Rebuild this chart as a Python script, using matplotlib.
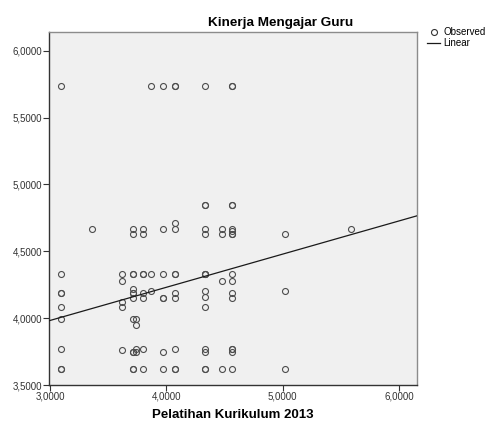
import matplotlib.pyplot as plt
import numpy as np
from matplotlib.lines import Line2D

plt.rcParams['font.family'] = ['Liberation Sans', 'DejaVu Sans']

# --- DATA ---
# x = Pelatihan Kurikulum 2013, y = Kinerja Mengajar Guru
COL_X = [3.09, 3.36, 3.62, 3.71, 3.74, 3.80, 3.87, 3.97, 4.07, 4.33, 4.48, 4.56, 5.02, 5.59]
COL_Y = [
    [5.74, 4.33, 4.19, 4.19, 4.08, 3.99, 3.77, 3.62, 3.62],
    [4.67],
    [4.33, 4.28, 4.12, 4.08, 3.76],
    [4.67, 4.63, 4.33, 4.33, 4.22, 4.19, 4.19, 4.15, 3.99, 3.75, 3.75, 3.62, 3.62],
    [3.99, 3.95, 3.77, 3.75],
    [4.67, 4.63, 4.33, 4.33, 4.19, 4.15, 3.77, 3.62],
    [5.74, 4.33, 4.20],
    [5.74, 4.67, 4.33, 4.15, 4.15, 3.75, 3.62],
    [5.74, 5.74, 4.71, 4.67, 4.33, 4.33, 4.19, 4.15, 3.77, 3.62, 3.62],
    [5.74, 4.85, 4.85, 4.67, 4.63, 4.33, 4.33, 4.33, 4.20, 4.16, 4.08, 3.77, 3.75, 3.62, 3.62],
    [4.67, 4.63, 4.28, 3.62],
    [5.74, 5.74, 4.85, 4.85, 4.67, 4.65, 4.63, 4.63, 4.33, 4.28, 4.19, 4.15, 3.77, 3.77, 3.75, 3.62],
    [4.63, 4.20, 3.62],
    [4.67],
]

# linear fit line
FIT_INTERCEPT = 3.239
FIT_SLOPE = 0.248

X_TICKS = [3.0, 4.0, 5.0, 6.0]
Y_TICKS = [3.5, 4.0, 4.5, 5.0, 5.5, 6.0]

xs = []
ys = []
for cx, col in zip(COL_X, COL_Y):
    xs += [cx] * len(col)
    ys += col

fig = plt.figure(figsize=(4.88, 4.23), dpi=100)
ax = fig.add_axes([0.1004, 0.0898, 0.7536, 0.8345])
ax.set_facecolor('#f0f0f0')

ax.plot(xs, ys, linestyle='none', marker='o', markersize=4.3,
        markerfacecolor='none', markeredgecolor='#4d4d4d', markeredgewidth=0.8, zorder=3)

xlim = (2.99, 6.153)
fx = np.array(xlim)
ax.plot(fx, FIT_INTERCEPT + FIT_SLOPE * fx, color='#1a1a1a', linewidth=0.9, zorder=4)

ax.set_xlim(*xlim)
ax.set_ylim(3.5, 6.14)
ax.set_xticks(X_TICKS)
ax.set_yticks(Y_TICKS)
fmt = lambda v: f"{v:.4f}".replace('.', ',')
ax.set_xticklabels([fmt(v) for v in X_TICKS], fontsize=7, color='#333333')
ax.set_yticklabels([fmt(v) for v in Y_TICKS], fontsize=7, color='#333333')
ax.tick_params(direction='out', length=4, width=0.8, color='#333333', pad=1)

for s in ax.spines.values():
    s.set_color('#8c8c8c')
    s.set_linewidth(1.0)
ax.spines['left'].set_color('#333333')
ax.spines['bottom'].set_color('#333333')

fig.text(0.576, 0.938, 'Kinerja Mengajar Guru', ha='center', va='baseline',
         fontsize=9.7, fontweight='bold')
fig.text(0.478, 0.012, 'Pelatihan Kurikulum 2013', ha='center', va='baseline',
         fontsize=9.5, fontweight='bold')

# legend outside the plot area
handles = [
    Line2D([], [], linestyle='none', marker='o', markersize=4.3, markerfacecolor='none',
           markeredgecolor='#333333', markeredgewidth=0.8),
    Line2D([], [], color='#1a1a1a', linewidth=0.9),
]
fig.legend(handles, ['Observed', 'Linear'], loc='upper left', bbox_to_anchor=(0.876, 0.935),
           frameon=False, fontsize=7, handlelength=1.3, handletextpad=0.3,
           labelspacing=0.05, borderaxespad=0, borderpad=0)

fig.savefig('out.png', dpi=100)
